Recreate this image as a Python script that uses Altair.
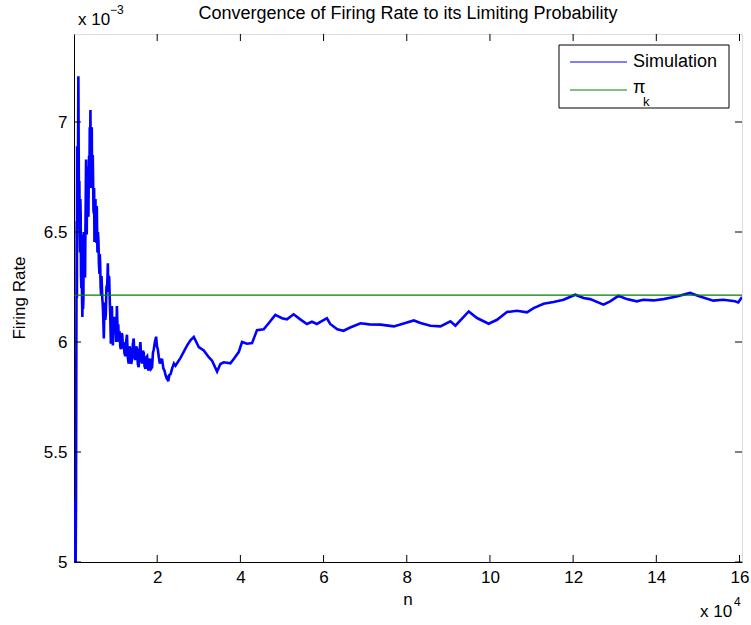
import altair as alt
import pandas as pd

TITLE = "Convergence of Firing Rate to its Limiting Probability"
X_TITLE = "n"
Y_TITLE = "Firing Rate"
LEGEND_SIM = "Simulation"
LEGEND_PI = "π"
LEGEND_PI_SUB = "k"

# simulated running firing rate (values in units of 1e-3)
n_values = [
    0, 100, 200, 300, 400, 484, 560, 645, 700, 750, 806, 900, 1000, 1048, 1120, 1209, 1290, 1370,
    1451, 1530, 1612, 1690, 1773, 1854, 1930, 2015, 2096, 2180, 2257, 2340, 2418, 2540, 2660, 2740,
    2821, 2902, 2980, 3063, 3140, 3224, 3350, 3466, 3550, 3627, 3700, 3788, 3870, 3949, 4030, 4111,
    4190, 4272, 4350, 4433, 4510, 4594, 4680, 4755, 4840, 4917, 5040, 5158, 5240, 5320, 5400, 5481,
    5560, 5642, 5760, 5884, 6000, 6126, 6200, 6287, 6400, 6529, 6610, 6690, 6800, 6932, 7050, 7173,
    7300, 7415, 7530, 7657, 7800, 7979, 8060, 8141, 8220, 8302, 8380, 8463, 8580, 8705, 8866, 8990,
    9108, 9230, 9350, 9500, 9672, 9830, 9994, 10150, 10317, 10480, 10639, 10800, 10962, 11120, 11284,
    11450, 11606, 11770, 11929, 12130, 12332, 12530, 12735, 12940, 13138, 13340, 13541, 13740, 13944,
    14150, 14347, 14550, 14750, 14950, 15153, 15350, 15556, 15760, 15959, 16160, 16362, 16560, 16765,
    16970, 17168, 17370, 17571, 17770, 17974, 18170, 18377, 18580, 18780, 18980, 19183, 19450, 19747,
    19950, 20150, 20400, 20634, 20900, 21198, 21480, 21762, 22000, 22246, 22450, 22649, 22930, 23213,
    23600, 24019, 24400, 25600, 27200, 28000, 28800, 30000, 31200, 32400, 33200, 34400, 35200, 36000,
    37600, 38400, 39600, 40400, 41600, 42800, 44000, 45600, 46800, 48400, 50000, 51200, 52800, 54400,
    56000, 57200, 58400, 60800, 61600, 63300, 64800, 66400, 68900, 71000, 73700, 76900, 81700, 83300,
    85700, 88100, 90500, 91700, 94900, 96900, 99700, 101700, 104100, 106500, 108900, 110500, 112900,
    115300, 117700, 120500, 122500, 124100, 127300, 128900, 130900, 132900, 135300, 136900, 139300,
    141700, 144900, 148100, 150500, 153700, 156100, 158900, 159700, 160600,
]
rate_x1e3 = [
    3.0, 4.6, 5.28, 4.8, 5.0, 5.3, 5.92, 6.55, 6.2, 6.89, 6.76, 6.6, 7.0, 7.208, 6.9, 6.553, 6.732, 6.5,
    6.407, 6.65, 6.569, 6.3, 6.244, 6.488, 6.2, 6.114, 6.325, 6.15, 6.195, 6.5, 6.407, 6.3, 6.293, 6.5,
    6.65, 6.829, 6.6, 6.488, 6.7, 6.797, 6.6, 6.569, 6.75, 6.846, 6.7, 6.976, 6.85, 7.054, 6.8, 6.846,
    6.7, 6.976, 6.75, 6.699, 6.85, 6.732, 6.6, 6.585, 6.7, 6.455, 6.6, 6.65, 6.5, 6.569, 6.45, 6.618,
    6.5, 6.407, 6.5, 6.455, 6.35, 6.309, 6.4, 6.358, 6.25, 6.211, 6.3, 6.26, 6.2, 6.163, 6.1, 6.016,
    6.15, 6.179, 6.1, 6.13, 6.25, 6.26, 6.3, 6.358, 6.25, 6.228, 6.3, 6.293, 6.2, 6.13, 5.992, 6.08,
    6.163, 6.05, 5.984, 6.08, 6.114, 6.05, 6.081, 6.0, 6.163, 6.05, 6.081, 6.0, 6.049, 5.98, 5.967,
    6.04, 6.033, 5.97, 6.0, 5.95, 5.935, 6.0, 6.033, 5.93, 5.902, 5.98, 5.967, 5.9, 5.919,
    5.99, 6.016, 5.93, 5.919, 5.98, 5.967, 5.9, 5.886, 5.96, 6.0, 5.92, 5.902, 5.96, 5.951,
    5.89, 5.878, 5.93, 5.935, 5.88, 5.87, 5.92, 5.919, 5.88, 5.886, 5.95, 5.967, 6.0, 6.024,
    5.98, 5.967, 5.93, 5.902, 5.92, 5.919, 5.88, 5.87, 5.85, 5.837, 5.84, 5.821, 5.85, 5.854,
    5.88, 5.902, 5.892, 5.928, 5.985, 6.008, 6.023, 5.977, 5.962, 5.931, 5.915, 5.866, 5.9, 5.908,
    5.903, 5.923, 5.954, 6.0, 5.992, 5.995, 6.054, 6.058, 6.085, 6.123, 6.108, 6.103, 6.126, 6.103,
    6.082, 6.092, 6.082, 6.108, 6.082, 6.058, 6.051, 6.066, 6.085, 6.08, 6.079, 6.071, 6.098, 6.086,
    6.074, 6.071, 6.094, 6.074, 6.139, 6.109, 6.083, 6.101, 6.136, 6.142, 6.135, 6.154, 6.174,
    6.182, 6.192, 6.215, 6.2, 6.195, 6.17, 6.185, 6.21, 6.195, 6.185, 6.192, 6.189,
    6.195, 6.207, 6.223, 6.207, 6.188, 6.192, 6.185, 6.18, 6.204,
]
pi_k_x1e3 = 6.213

x_ticks = [20000, 40000, 60000, 80000, 100000, 120000, 140000, 160000]
y_ticks = [5, 5.5, 6, 6.5, 7]
x_domain = [0, 160600]
y_domain = [5, 7.4]

W, H = 668, 528
FONT = "Liberation Sans"
BLUE = "#0000ff"
GREEN = "#008000"
TICK = 7
LABEL_SIZE = 17

sim = pd.DataFrame({"n": n_values, "rate": rate_x1e3})
xs = alt.Scale(domain=x_domain, nice=False, zero=False)
ys = alt.Scale(domain=y_domain, nice=False, zero=False)

line = alt.Chart(sim).mark_line(color=BLUE, strokeWidth=2.6, clip=True).encode(
    x=alt.X("n:Q", scale=xs, title=None, axis=alt.Axis(
        values=x_ticks, labelExpr="format(datum.value / 10000, 'd')", tickSize=0, labelPadding=7,
        grid=False, labelFlush=False, domain=True, labelFont=FONT, labelFontSize=LABEL_SIZE,
        labelColor="black", domainColor="black")),
    y=alt.Y("rate:Q", scale=ys, title=None, axis=alt.Axis(
        values=y_ticks, labelExpr="format(datum.value, '~g')", tickSize=0, labelPadding=7,
        grid=False, labelFlush=False, domain=True, labelFont=FONT, labelFontSize=LABEL_SIZE,
        labelColor="black", domainColor="black")),
)

pi_rule = alt.Chart(pd.DataFrame({"pi": [pi_k_x1e3]})).mark_rule(
    color=GREEN, strokeWidth=1.2).encode(y=alt.Y("pi:Q", scale=ys, title=None))

xt = pd.DataFrame({"v": x_ticks})
yt = pd.DataFrame({"v": y_ticks})
xt_bot = alt.Chart(xt).mark_rule(color="black").encode(
    x=alt.X("v:Q", scale=xs, title=None), y=alt.value(H), y2=alt.value(H - TICK))
xt_top = alt.Chart(xt).mark_rule(color="black").encode(
    x=alt.X("v:Q", scale=xs, title=None), y=alt.value(0), y2=alt.value(TICK))
yt_left = alt.Chart(yt).mark_rule(color="black").encode(
    y=alt.Y("v:Q", scale=ys, title=None), x=alt.value(0), x2=alt.value(TICK))
yt_right = alt.Chart(yt).mark_rule(color="black").encode(
    y=alt.Y("v:Q", scale=ys, title=None), x=alt.value(W - TICK), x2=alt.value(W))


def label(txt, x, y, size=17, align="left", baseline="alphabetic", angle=0):
    return alt.Chart(pd.DataFrame({"t": [txt]})).mark_text(
        font=FONT, fontSize=size, color="black", align=align, baseline=baseline, angle=angle
    ).encode(text="t:N", x=alt.value(x), y=alt.value(y))


title = label(TITLE, W / 2, -15, size=18, align="center")
xlab = label(X_TITLE, W / 2, 566, align="center", baseline="middle")
ylab = label(Y_TITLE, -54, H / 2, align="center", baseline="middle", angle=270)
exp_y = label("x 10", 4, -9)
exp_y_sup = label("\u22123", 36, -20, size=12)
exp_x = label("x 10", 626, 583)
exp_x_sup = label("4", 660, 572, size=12)

leg_box = alt.Chart(pd.DataFrame({"a": [0]})).mark_rect(
    fill="white", stroke="black", strokeWidth=1).encode(
    x=alt.value(485), x2=alt.value(655), y=alt.value(11), y2=alt.value(74))
leg_sim = alt.Chart(pd.DataFrame({"a": [0]})).mark_rule(color=BLUE, strokeWidth=1.2).encode(
    x=alt.value(496), x2=alt.value(553), y=alt.value(28))
leg_pi = alt.Chart(pd.DataFrame({"a": [0]})).mark_rule(color=GREEN, strokeWidth=1.2).encode(
    x=alt.value(496), x2=alt.value(553), y=alt.value(56))
leg_t1 = label(LEGEND_SIM, 559, 28, size=18, baseline="middle")
leg_t2 = label(LEGEND_PI, 559, 54, size=18, baseline="middle")
leg_t3 = label(LEGEND_PI_SUB, 569, 68, size=13, baseline="middle")

chart = alt.layer(
    line, pi_rule, xt_bot, xt_top, yt_left, yt_right,
    title, xlab, ylab, exp_y, exp_y_sup, exp_x, exp_x_sup,
    leg_box, leg_sim, leg_pi, leg_t1, leg_t2, leg_t3,
).properties(
    width=W, height=H,
    autosize=alt.AutoSizeParams(type="none"),
    padding={"left": 74, "top": 34, "right": 9, "bottom": 63},
).configure_view(
    stroke="black", strokeWidth=1
).configure(background="white")

chart.save("out.html", embed_options={"renderer": "svg", "actions": False})
